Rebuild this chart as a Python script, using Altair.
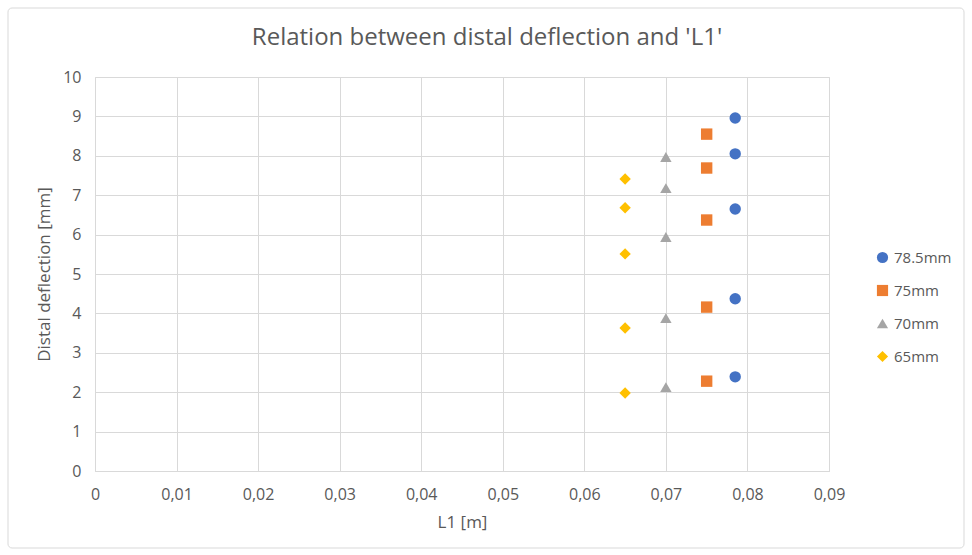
import altair as alt
import pandas as pd

series = ["78.5mm", "75mm", "70mm", "65mm"]
l1_values = [0.0785, 0.075, 0.070, 0.065]
deflections = [
    [8.96, 8.05, 6.65, 4.37, 2.39],
    [8.55, 7.69, 6.37, 4.16, 2.28],
    [7.97, 7.18, 5.94, 3.88, 2.13],
    [7.41, 6.68, 5.51, 3.63, 1.98],
]
colors = ["#4472C4", "#ED7D31", "#A5A5A5", "#FFC000"]
shapes = ["circle", "square", "triangle-up", "diamond"]
title_text = "Relation between distal deflection and 'L1'"

rows = []
for s, x, ys in zip(series, l1_values, deflections):
    for y in ys:
        rows.append({"series": s, "L1": x, "deflection": y})
df = pd.DataFrame(rows)

grey = "#595959"
font = "Open Sans"

points = alt.Chart(df).mark_point(filled=True, opacity=1, size=130).encode(
    x=alt.X("L1:Q", title="L1 [m]",
            scale=alt.Scale(domain=[0, 0.09], nice=False),
            axis=alt.Axis(values=[0, 0.01, 0.02, 0.03, 0.04, 0.05, 0.06, 0.07, 0.08, 0.09],
                          labelExpr="replace(format(datum.value, '.2~f'), '.', ',')",
                          ticks=False, domainColor="#d9d9d9", gridColor="#d9d9d9",
                          labelFlush=False,
                          labelColor=grey, labelFontSize=16, labelPadding=15,
                          titleColor=grey, titleFontSize=17, titleFontWeight="normal",
                          titlePadding=12, labelFont=font, titleFont=font)),
    y=alt.Y("deflection:Q", title="Distal deflection [mm]",
            scale=alt.Scale(domain=[0, 10], nice=False),
            axis=alt.Axis(values=list(range(0, 11)), ticks=False, domain=False,
                          gridColor="#d9d9d9", labelColor=grey, labelFontSize=16,
                          labelPadding=14, labelFlush=False, titleColor=grey, titleFontSize=17,
                          titleFontWeight="normal", titlePadding=9,
                          labelFont=font, titleFont=font)),
    color=alt.Color("series:N", scale=alt.Scale(domain=series, range=colors),
                    legend=alt.Legend(title=None, orient="none", legendX=780, legendY=173,
                                      labelColor=grey, labelFontSize=15, labelFont=font,
                                      symbolSize=125, rowPadding=17, labelOffset=4)),
    shape=alt.Shape("series:N", scale=alt.Scale(domain=series, range=shapes)),
)

border = alt.Chart(pd.DataFrame({"a": [0]})).mark_rect(
    fill=None, stroke="#d9d9d9", strokeWidth=1, cornerRadius=4
).encode(x=alt.value(-87), x2=alt.value(869), y=alt.value(-69), y2=alt.value(471))

title = alt.Chart(pd.DataFrame({"a": [0]})).mark_text(
    font=font, fontSize=24, color=grey, align="center", baseline="middle"
).encode(x=alt.value(392), y=alt.value(-39), text=alt.value(title_text))

chart = alt.layer(border, title, points).properties(
    width=734, height=394,
    padding={"left": 95, "top": 77, "right": 143, "bottom": 84},
    autosize=alt.AutoSizeParams(type="none"),
).configure_view(stroke=None).configure(background="white")

chart.save("out.html", embed_options={"renderer": "svg", "actions": False})
